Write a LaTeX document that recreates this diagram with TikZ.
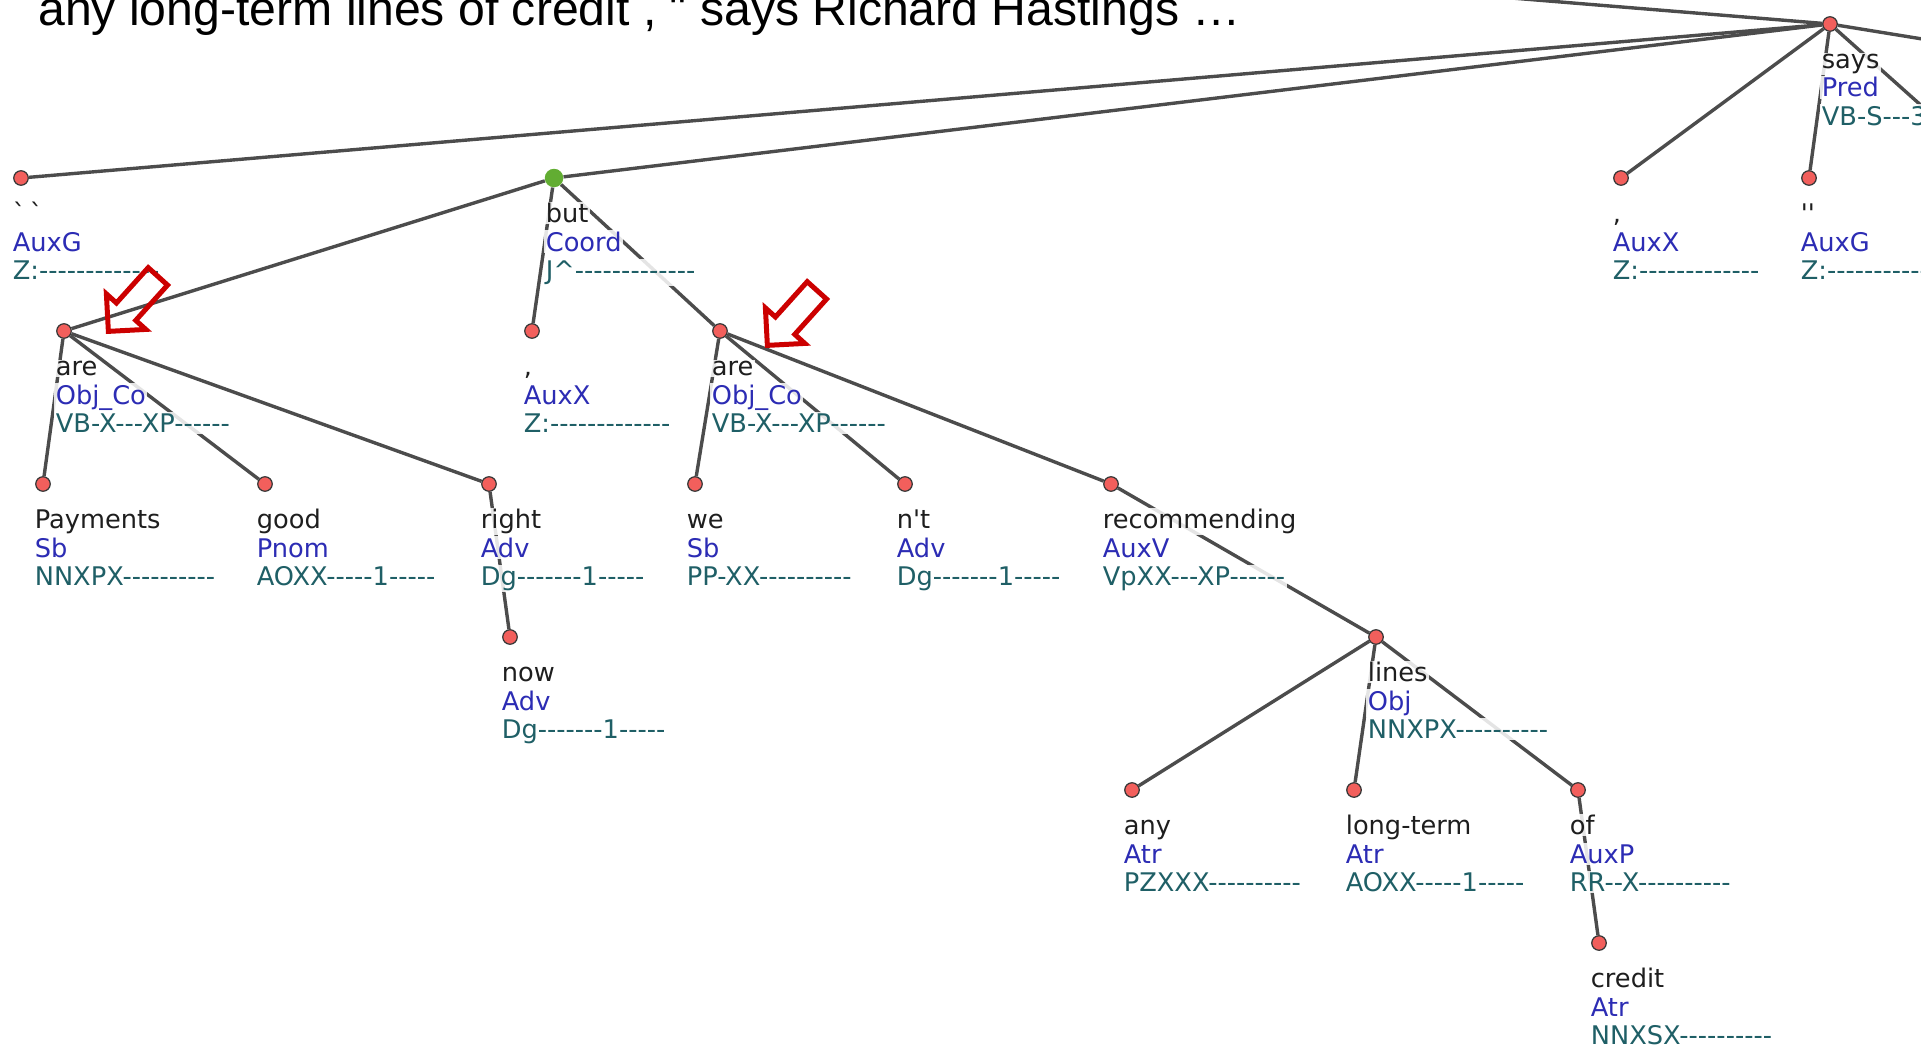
\documentclass[tikz,border=0pt]{standalone}
\usepackage{fontspec}
\newfontfamily\treefont{DejaVu Sans}
\newfontfamily\titlefont{Liberation Sans}
\usepackage{tikz}
\usetikzlibrary{shapes.arrows, backgrounds}
\definecolor{edgegray}{HTML}{4C4C4C}
\definecolor{dotred}{HTML}{F25F5C}
\definecolor{dotline}{HTML}{383838}
\definecolor{coordgreen}{HTML}{62AD32}
\definecolor{wordblack}{HTML}{1E1E1E}
\definecolor{afunblue}{HTML}{2C2CB4}
\definecolor{tagteal}{HTML}{1F5F66}
\definecolor{hintred}{HTML}{CC0000}

\begin{document}
\begin{tikzpicture}[
    x=0.2mm, y=-0.2mm,
    dot/.style={circle, draw=dotline, line width=0.25mm, fill=dotred,
                minimum size=2.9mm, inner sep=0pt},
    coorddot/.style={circle, fill=coordgreen, minimum size=3.7mm, inner sep=0pt},
    link/.style={draw=edgegray, line width=0.68mm},
    txt/.style={anchor=base west, font=\treefont\fontsize{14.6pt}{16pt}\selectfont,
                fill=white, fill opacity=0.85, text opacity=1, inner sep=0.3mm},
    wordtxt/.style={txt, text=wordblack},
    afuntxt/.style={txt, text=afunblue},
    tagtxt/.style={txt, text=tagteal},
    hintarrow/.style={single arrow, draw=hintred, line width=1mm,
                inner xsep=0pt, inner ysep=2.1mm, minimum height=14.8mm,
                single arrow head extend=2.7mm, anchor=tip, rotate=228}
]
\useasboundingbox (0,0) rectangle (1921,1045);
\clip (0,0) rectangle (1921,1045);

% Sentence
\node[anchor=base west, inner sep=0pt, font=\titlefont\fontsize{27.4pt}{30pt}\selectfont]
    (sentence) at (38,26) {any long-term lines of credit , " says Richard Hastings …};

% Tree nodes
\node[dot] (says) at (1830,24) {};
\node[dot] (quoteL) at (21,178) {};
\node[coorddot] (but) at (554,178) {};
\node[dot] (commaA) at (1621,178) {};
\node[dot] (quoteR) at (1809,178) {};
\node[dot] (areA) at (64,331) {};
\node[dot] (commaB) at (532,331) {};
\node[dot] (areB) at (720,331) {};
\node[dot] (payments) at (43,484) {};
\node[dot] (good) at (265,484) {};
\node[dot] (rightadv) at (489,484) {};
\node[dot] (we) at (695,484) {};
\node[dot] (nt) at (905,484) {};
\node[dot] (recommending) at (1111,484) {};
\node[dot] (now) at (510,637) {};
\node[dot] (lines) at (1376,637) {};
\node[dot] (any) at (1132,790) {};
\node[dot] (longterm) at (1354,790) {};
\node[dot] (of) at (1578,790) {};
\node[dot] (credit) at (1599,943) {};
\coordinate (offA) at (1230,-25);
\coordinate (offB) at (1990,50);
\coordinate (offC) at (1990,167);

% Dependency edges
\begin{scope}[on background layer]
\clip (0,0) rectangle (1921,1045);
\draw[link] (says) -- (offA);
\draw[link] (says) -- (offB);
\draw[link] (says) -- (offC);
\draw[link] (says) -- (quoteL);
\draw[link] (says) -- (but);
\draw[link] (says) -- (commaA);
\draw[link] (says) -- (quoteR);
\draw[link] (but) -- (areA);
\draw[link] (but) -- (commaB);
\draw[link] (but) -- (areB);
\draw[link] (areA) -- (payments);
\draw[link] (areA) -- (good);
\draw[link] (areA) -- (rightadv);
\draw[link] (rightadv) -- (now);
\draw[link] (areB) -- (we);
\draw[link] (areB) -- (nt);
\draw[link] (areB) -- (recommending);
\draw[link] (recommending) -- (lines);
\draw[link] (lines) -- (any);
\draw[link] (lines) -- (longterm);
\draw[link] (lines) -- (of);
\draw[link] (of) -- (credit);
\end{scope}

% Labels: word, afun, tag
\foreach \n/\w/\f/\t in {
    says/says/Pred/VB-S---3,
    quoteL/\textasciigrave\,\textasciigrave/AuxG/Z:-------------,
    but/but/Coord/J\textasciicircum-------------,
    commaA/{,}/AuxX/Z:-------------,
    quoteR/''/AuxG/Z:-------------,
    areA/are/Obj\_Co/VB-X---XP------,
    commaB/{,}/AuxX/Z:-------------,
    areB/are/Obj\_Co/VB-X---XP------,
    payments/Payments/Sb/NNXPX----------,
    good/good/Pnom/AOXX-----1-----,
    rightadv/right/Adv/Dg-------1-----,
    we/we/Sb/PP-XX----------,
    nt/n't/Adv/Dg-------1-----,
    recommending/recommending/AuxV/VpXX---XP------,
    now/now/Adv/Dg-------1-----,
    lines/lines/Obj/NNXPX----------,
    any/any/Atr/PZXXX----------,
    longterm/long-term/Atr/AOXX-----1-----,
    of/of/AuxP/RR--X----------,
    credit/credit/Atr/NNXSX----------}{
  \node[wordtxt] (\n-w) at ([shift={(-10,44.5)}]\n) {\w};
  \node[afuntxt] (\n-f) at ([shift={(-10,73)}]\n) {\f};
  \node[tagtxt] (\n-t) at ([shift={(-10,101)}]\n) {\t};
}

% Markers
\node[hintarrow] (hintA) at (106,334) {};
\node[hintarrow] (hintB) at (765,348) {};

\end{tikzpicture}
\end{document}
